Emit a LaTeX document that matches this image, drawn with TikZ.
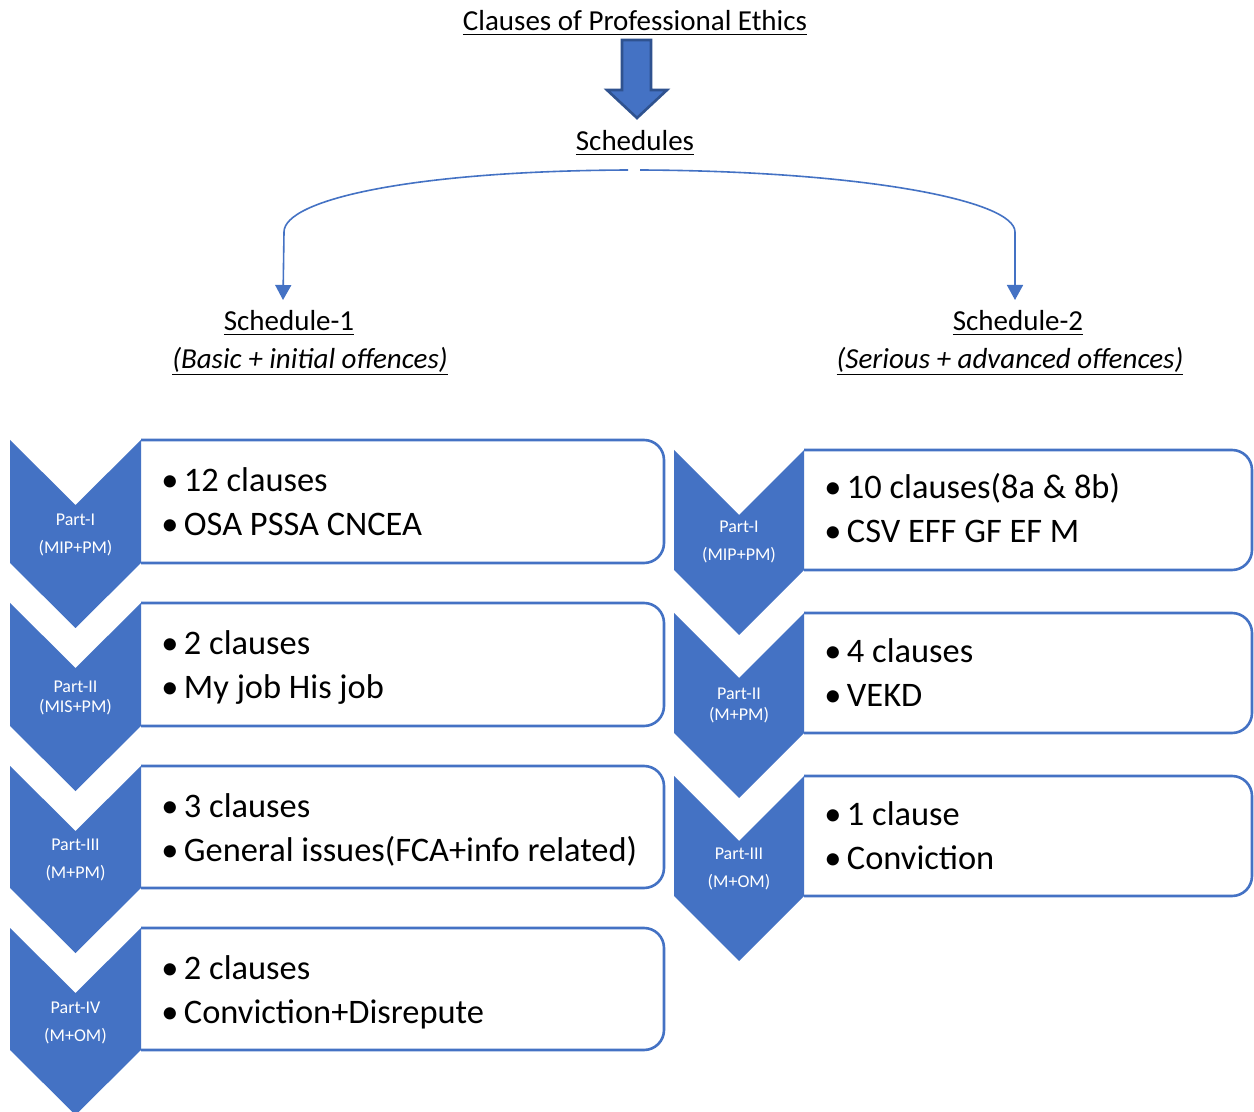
\documentclass[tikz,border=0pt]{standalone}
\usepackage{fontspec}
\setmainfont{Carlito}
\usetikzlibrary{arrows.meta}
\definecolor{acc}{HTML}{4472C4}
\definecolor{accdark}{HTML}{2F528F}
\newcommand\bul{\makebox[11.3pt][l]{•}}
\newcommand\mychev[5]{% xl, ytop, xmid, xr, ybot
  \fill[acc] (#1,#2) -- (#3,#2+65) -- (#4,#2) -- (#4,#5) -- (#3,#5+65) -- (#1,#5) -- cycle;}
\newcommand\mybox[4]{% xl, ytop, xr, ybot
  \draw[boxline] (#1,#2) -- (#3,#2) -- (#3,#4) -- (#1,#4);}
\tikzset{
  boxline/.style={draw=acc, line width=1.3pt, rounded corners=10pt},
  head/.style={inner sep=0pt, font=\fontsize{14.5}{17}\selectfont},
  item/.style={inner sep=0pt, anchor=base west, font=\fontsize{17.2}{20}\selectfont},
  plabel/.style={inner sep=0pt, text=white, font=\fontsize{9}{11}\selectfont},
  conn/.style={draw=acc, line width=0.8pt, -{Triangle[width=8pt,length=7.5pt]}}
}
\begin{document}
\begin{tikzpicture}[x=0.5pt,y=-0.5pt]
\useasboundingbox (0,0) rectangle (1254,1112);
\fill[white] (0,0) rectangle (1254,1112);

% headings
\node[head] (title) at (635,23) {\underline{Clauses of Professional Ethics}};
\node[head] (sched) at (635,143) {\underline{Schedules}};
\node[head] (s1) at (289,323) {\underline{Schedule-1}};
\node[head] (s1d) at (310,361.5) {\underline{\textit{(Basic + initial offences)}}};
\node[head] (s2) at (1018,323) {\underline{Schedule-2}};
\node[head] (s2d) at (1010,361.5) {\underline{\textit{(Serious + advanced offences)}}};

% block arrow
\draw[fill=acc, draw=accdark, line width=1.3pt, line join=miter]
  (622,40) -- (651,40) -- (651,90) -- (667,90) -- (637,118) -- (607,90) -- (622,90) -- cycle;

% connectors
\coordinate (sL) at (628,170);
\coordinate (sR) at (640,170);
\coordinate (tL) at (283,300);
\coordinate (tR) at (1015,300);
\draw[conn] (sL) .. controls (410,171) and (284,200) .. (284,232) -- (tL);
\draw[conn] (sR) .. controls (860,171) and (1015,200) .. (1015,232) -- (tR);

% ---------- Schedule-1 column ----------
\mybox{141}{440}{664}{563}
\mybox{141}{603}{664}{726}
\mybox{141}{766}{664}{888}
\mybox{141}{928}{664}{1050}
\mychev{10}{440}{75.5}{141}{563}
\mychev{10}{603}{75.5}{141}{726}
\mychev{10}{766}{75.5}{141}{888}
\mychev{10}{928}{75.5}{141}{1050}

\node[plabel] (l1a) at (75.5,520) {Part-I};
\node[plabel] (l1b) at (75.5,548) {(MIP+PM)};
\node[plabel] (l2a) at (75.5,687) {Part-II};
\node[plabel] (l2b) at (75.5,707) {(MIS+PM)};
\node[plabel] (l3a) at (75.5,845) {Part-III};
\node[plabel] (l3b) at (75.5,873) {(M+PM)};
\node[plabel] (l4a) at (75.5,1008) {Part-IV};
\node[plabel] (l4b) at (75.5,1036) {(M+OM)};

\node[item] (i1a) at (161,492) {\bul 12 clauses};
\node[item] (i1b) at (161,536) {\bul OSA PSSA CNCEA};
\node[item] (i2a) at (161,654) {\bul 2 clauses};
\node[item] (i2b) at (161,698) {\bul My job His job};
\node[item] (i3a) at (161,817) {\bul 3 clauses};
\node[item] (i3b) at (161,861) {\bul General issues(FCA+info related)};
\node[item] (i4a) at (161,979) {\bul 2 clauses};
\node[item] (i4b) at (161,1023) {\bul Conviction+Disrepute};

% ---------- Schedule-2 column ----------
\mybox{804}{450}{1252}{570}
\mybox{804}{613}{1252}{733}
\mybox{804}{776}{1252}{896}
\mychev{674}{450}{739}{804}{570}
\mychev{674}{613}{739}{804}{733}
\mychev{674}{776}{739}{804}{896}

\node[plabel] (r1a) at (739,527) {Part-I};
\node[plabel] (r1b) at (739,555) {(MIP+PM)};
\node[plabel] (r2a) at (739,694) {Part-II};
\node[plabel] (r2b) at (739,715) {(M+PM)};
\node[plabel] (r3a) at (739,854) {Part-III};
\node[plabel] (r3b) at (739,882) {(M+OM)};

\node[item] (j1a) at (824,499) {\bul 10 clauses(8a \& 8b)};
\node[item] (j1b) at (824,543) {\bul CSV EFF GF EF M};
\node[item] (j2a) at (824,662) {\bul 4 clauses};
\node[item] (j2b) at (824,706) {\bul VEKD};
\node[item] (j3a) at (824,825) {\bul 1 clause};
\node[item] (j3b) at (824,869) {\bul Conviction};
\end{tikzpicture}
\end{document}
